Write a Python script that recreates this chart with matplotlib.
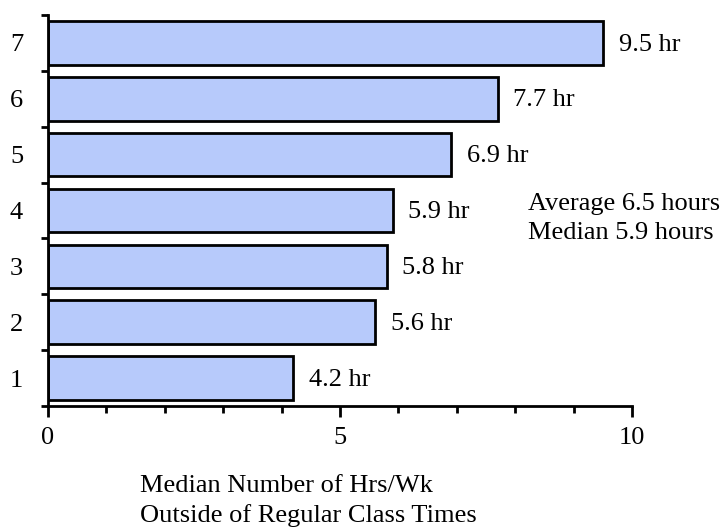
import matplotlib
matplotlib.use("Agg")
import matplotlib.pyplot as plt
from matplotlib.ticker import MultipleLocator, FixedLocator

categories = [1, 2, 3, 4, 5, 6, 7]
values = [4.2, 5.6, 5.8, 5.9, 6.9, 7.7, 9.5]
labels = ["4.2 hr", "5.6 hr", "5.8 hr", "5.9 hr", "6.9 hr", "7.7 hr", "9.5 hr"]
annot = "Average 6.5 hours\nMedian 5.9 hours"
xlabel = "Median Number of Hrs/Wk\nOutside of Regular Class Times"

plt.rcParams['font.family'] = ['Liberation Serif', 'DejaVu Serif']
plt.rcParams['font.size'] = 19

fig = plt.figure(figsize=(7.23, 5.29), dpi=100)
ax = fig.add_axes([48/723, 1-406/529, (632-48)/723, (406-15)/529])

ax.barh(categories, values, height=0.78, color='#b7cafb', edgecolor='black', linewidth=2)
for c, v, l in zip(categories, values, labels):
    ax.text(v + 0.27, c - 0.03, l, ha='left', va='center', fontsize=19)

ax.text(8.22, 3.86, annot, ha='left', va='center', fontsize=19, linespacing=1.39)

ax.set_xlim(0, 10)
ax.set_ylim(0.5, 7.5)
ax.xaxis.set_major_locator(FixedLocator([0, 5, 10]))
ax.xaxis.set_minor_locator(MultipleLocator(1))
ax.yaxis.set_major_locator(FixedLocator(categories))
ax.yaxis.set_minor_locator(FixedLocator([0.5 + i for i in range(8)]))
ax.tick_params(axis='x', which='major', length=8, width=2, pad=7)
ax.tick_params(axis='x', which='minor', length=5, width=2)
ax.tick_params(axis='y', which='major', length=0, pad=18)
ax.tick_params(axis='y', which='minor', length=5, width=2)

for s in ['top', 'right']:
    ax.spines[s].set_visible(False)
for s in ['left', 'bottom']:
    ax.spines[s].set_linewidth(2)

ax.set_xlabel(xlabel, fontsize=19, labelpad=19, linespacing=1.39,
              ha='left', multialignment='left', x=(140-48)/584)

fig.savefig("out.png", dpi=100)
